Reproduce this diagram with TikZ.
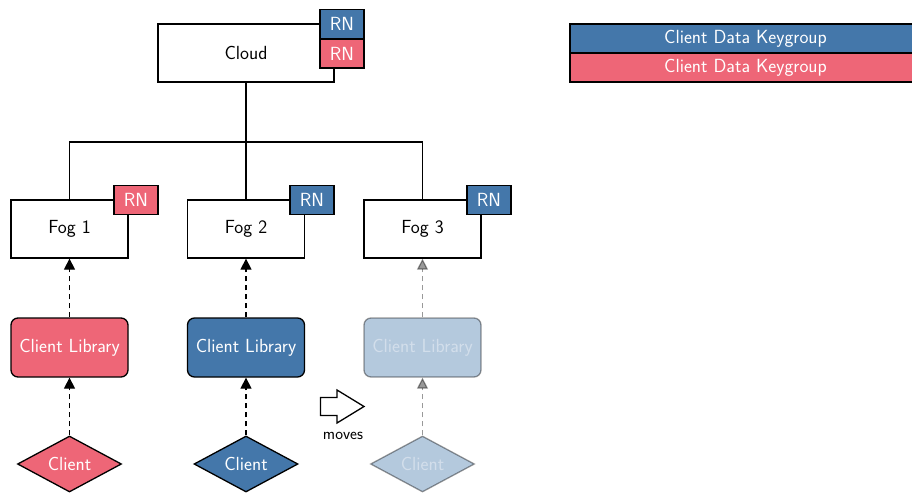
\documentclass[tikz,border=0pt]{standalone}
\usetikzlibrary{shapes.geometric,arrows.meta}
\definecolor{tblue}{HTML}{4477AA}
\definecolor{tred}{HTML}{EE6677}
\begin{document}
\begin{tikzpicture}[x=1pt,y=-1pt,
  every node/.style={font=\sffamily\fontsize{19}{22}\selectfont, inner sep=0pt, line width=1.3pt},
  box/.style={draw, fill=white, minimum width=117pt, minimum height=58pt},
  rn/.style={draw, minimum width=44pt, minimum height=29pt, text=white},
  lib/.style={draw, rounded corners=7pt, minimum width=117pt, minimum height=59pt, text=white},
  client/.style={draw, diamond, aspect=1.85, minimum width=104pt, minimum height=56pt, text=white},
  flow/.style={dashed, dash pattern=on 5pt off 4pt, line width=1.3pt, -{Triangle[length=11pt,width=11pt]}},
  conn/.style={line width=1.3pt},
  faded/.style={opacity=0.4},
  legend/.style={draw, minimum width=351pt, minimum height=29pt, text=white}
]
\useasboundingbox (0,0) rectangle (912,495);
% cloud
\node[box, minimum width=176pt] (cloud) at (246,53) {Cloud};
\node[rn, fill=tblue] (rnc1) at (342,24) {RN};
\node[rn, fill=tred] (rnc2) at (342,53.5) {RN};
% fogs
\node[box] (fog1) at (69.5,229) {Fog 1};
\node[box] (fog2) at (246,229) {Fog 2};
\node[box] (fog3) at (422.5,229) {Fog 3};
\node[rn, fill=tred] (rn1) at (136,200) {RN};
\node[rn, fill=tblue] (rn2) at (312,200) {RN};
\node[rn, fill=tblue] (rn3) at (489,200) {RN};
\coordinate (bus) at (246,142);
\draw[conn] (cloud.south) -- (bus) -| (fog1.north);
\draw[conn] (bus) -- (fog2.north);
\draw[conn] (bus) -| (fog3.north);
% libraries
\node[lib, fill=tred] (lib1) at (69.5,347.5) {Client Library};
\node[lib, fill=tblue] (lib2) at (246,347.5) {Client Library};
\node[lib, fill=tblue, faded, text opacity=0.4] (lib3) at (422.5,347.5) {Client Library};
% clients
\node[client, fill=tred] (c1) at (69.5,464) {Client};
\node[client, fill=tblue] (c2) at (246,464) {Client};
\node[client, fill=tblue, faded, text opacity=0.4] (c3) at (422.5,464) {Client};
% flows
\draw[flow] (c1.north) -- (lib1.south);
\draw[flow] (lib1.north) -- (fog1.south);
\draw[flow] (c2.north) -- (lib2.south);
\draw[flow] (lib2.north) -- (fog2.south);
\draw[flow, faded] (c3.north) -- (lib3.south);
\draw[flow, faded] (lib3.north) -- (fog3.south);
% moves arrow
\draw[conn, fill=white] (320.5,397.5) -- (337,397.5) -- (337,390) -- (364,406.5) -- (337,423) -- (337,415.5) -- (320.5,415.5) -- cycle;
\node (moves) at (343,436) {\fontsize{16.5}{19}\selectfont moves};
% legend
\node[legend, fill=tblue] (lg1) at (745.5,38.5) {Client Data Keygroup};
\node[legend, fill=tred] (lg2) at (745.5,67.5) {Client Data Keygroup};
\end{tikzpicture}
\end{document}
